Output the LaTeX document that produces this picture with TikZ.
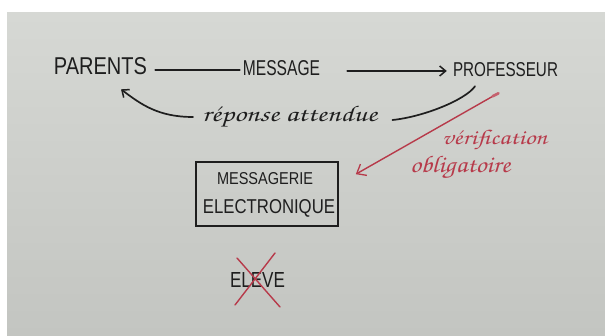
\documentclass[tikz,border=0pt]{standalone}
\usepackage[T1,TU]{fontenc}
\usepackage{fontspec}
\setmainfont{Liberation Sans}
\usetikzlibrary{arrows.meta}
\definecolor{paperT}{HTML}{D6D8D4}
\definecolor{paperB}{HTML}{C3C5C1}
\definecolor{ink}{HTML}{1E1E1E}
\definecolor{redink}{HTML}{B73A4A}
\newcommand{\handscript}{\fontencoding{T1}\fontfamily{pzc}\fontseries{mb}\fontshape{it}\selectfont}
\begin{document}
\begin{tikzpicture}[x=1pt,y=-1pt,
  caps/.style={inner sep=0pt, text=ink},
  script/.style={inner sep=0pt, anchor=base west},
  inkline/.style={draw=ink, line width=1.7pt, line cap=round},
  redline/.style={draw=redink, line width=1.4pt, line cap=round},
  barb/.style={-{Straight Barb[length=6pt,width=10pt,line width=1.5pt]}},
  redbarb/.style={-{Straight Barb[length=8pt,width=13pt,line width=1.3pt]}}]
\fill[white] (0,0) rectangle (605,336);
\shade[top color=paperT,bottom color=paperB] (7,13) rectangle (605,336);
\useasboundingbox (0,0) rectangle (605,336);
% top row
\node[caps] (par) at (100.5,66) {\resizebox{93pt}{17pt}{PARENTS}};
\node[caps] (msg) at (281.5,68) {\resizebox{77pt}{15pt}{MESSAGE}};
\node[caps] (prof) at (505.5,70) {\resizebox{105pt}{14pt}{PROFESSEUR}};
% reply text
\node[script, text=ink] (rep) at (202,122) {\resizebox{175pt}{16pt}{\handscript r\'eponse attendue}};
% red notes
\node[script, text=redink] (verif) at (442,145) {\resizebox{105pt}{15pt}{\handscript v\'erification}};
\node[script, text=redink] (oblig) at (410,173) {\resizebox{100pt}{17pt}{\handscript obligatoire}};
% box
\node[draw=ink, line width=1.6pt, minimum width=142pt, minimum height=64pt, inner sep=0pt] (box) at (267,194) {};
\node[caps] (mess1) at (265,179) {\resizebox{96pt}{12pt}{MESSAGERIE}};
\node[caps] (mess2) at (269,208) {\resizebox{132pt}{14pt}{ELECTRONIQUE}};
% eleve
\node[caps] (eleve) at (257.5,280) {\resizebox{55pt}{15pt}{ELEVE}};
\draw[redline] ([shift={(-20.5,-22)}]eleve.center) -- ([shift={(22.5,27)}]eleve.center);
\draw[redline] ([shift={(17.5,-27)}]eleve.center) -- ([shift={(-22.5,25)}]eleve.center);
% connectors
\draw[inkline] ([shift={(8,4)}]par.east) -- ([shift={(-3,2)}]msg.west);
\draw[inkline,barb] ([shift={(27,3)}]msg.east) -- ([shift={(-6,1)}]prof.west);
\draw[inkline,barb] ([shift={(-9,-5)}]rep.base west) .. controls +(-35,0) and +(20,15) .. ([shift={(20.5,14.5)}]par.south);
\draw[inkline] ([shift={(15,-2)}]rep.base east) .. controls +(30,-3) and +(-10,14) .. ([shift={(-30.5,9)}]prof.south);
\draw[redline,redbarb] ([shift={(-7.5,16)}]prof.south) -- ([shift={(17,13)}]box.north east);
\draw[draw=redink!80, line width=2.6pt, line cap=round] ([shift={(-13,19)}]prof.south) -- ([shift={(-7,16)}]prof.south);
\end{tikzpicture}
\end{document}
